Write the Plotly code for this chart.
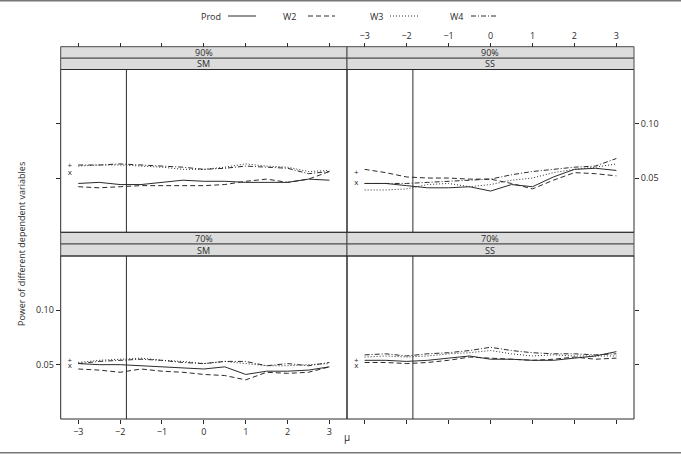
import plotly.graph_objects as go

W, H = 681, 454

mu = [-3, -2.5, -2, -1.5, -1, -0.5, 0, 0.5, 1, 1.5, 2, 2.5, 3]
series_names = ["Prod", "W2", "W3", "W4"]

# panel order: top-left (90%, SM), top-right (90%, SS), bottom-left (70%, SM), bottom-right (70%, SS)
panel_level = ["90%", "90%", "70%", "70%"]
panel_method = ["SM", "SS", "SM", "SS"]

prod_90_sm = [0.045, 0.046, 0.044, 0.044, 0.046, 0.048, 0.047, 0.047, 0.046, 0.046, 0.046, 0.049, 0.048]
w2_90_sm = [0.042, 0.041, 0.042, 0.043, 0.043, 0.043, 0.043, 0.044, 0.047, 0.049, 0.046, 0.049, 0.056]
w3_90_sm = [0.061, 0.062, 0.062, 0.061, 0.060, 0.058, 0.058, 0.060, 0.063, 0.061, 0.060, 0.056, 0.057]
w4_90_sm = [0.062, 0.062, 0.063, 0.062, 0.061, 0.060, 0.058, 0.059, 0.061, 0.060, 0.059, 0.054, 0.056]

prod_90_ss = [0.045, 0.045, 0.043, 0.041, 0.041, 0.042, 0.038, 0.044, 0.042, 0.051, 0.058, 0.059, 0.057]
w2_90_ss = [0.058, 0.055, 0.051, 0.050, 0.050, 0.049, 0.049, 0.045, 0.040, 0.048, 0.055, 0.054, 0.052]
w3_90_ss = [0.039, 0.039, 0.040, 0.044, 0.045, 0.042, 0.044, 0.048, 0.050, 0.055, 0.058, 0.060, 0.063]
w4_90_ss = [0.045, 0.045, 0.045, 0.046, 0.047, 0.048, 0.049, 0.053, 0.056, 0.058, 0.060, 0.061, 0.068]

prod_70_sm = [0.051, 0.050, 0.050, 0.049, 0.048, 0.047, 0.046, 0.048, 0.041, 0.044, 0.044, 0.045, 0.048]
w2_70_sm = [0.046, 0.045, 0.043, 0.046, 0.044, 0.043, 0.041, 0.040, 0.036, 0.043, 0.042, 0.043, 0.048]
w3_70_sm = [0.052, 0.054, 0.055, 0.056, 0.054, 0.053, 0.051, 0.053, 0.051, 0.049, 0.049, 0.050, 0.051]
w4_70_sm = [0.051, 0.053, 0.054, 0.055, 0.054, 0.052, 0.051, 0.053, 0.053, 0.049, 0.051, 0.049, 0.052]

prod_70_ss = [0.054, 0.054, 0.053, 0.054, 0.056, 0.058, 0.055, 0.055, 0.054, 0.054, 0.056, 0.058, 0.062]
w2_70_ss = [0.052, 0.052, 0.051, 0.052, 0.054, 0.057, 0.056, 0.055, 0.054, 0.055, 0.057, 0.055, 0.056]
w3_70_ss = [0.057, 0.058, 0.057, 0.058, 0.060, 0.061, 0.063, 0.060, 0.058, 0.059, 0.058, 0.058, 0.058]
w4_70_ss = [0.059, 0.060, 0.058, 0.060, 0.061, 0.063, 0.066, 0.063, 0.061, 0.060, 0.060, 0.059, 0.060]

panel_data = [
    [prod_90_sm, w2_90_sm, w3_90_sm, w4_90_sm],
    [prod_90_ss, w2_90_ss, w3_90_ss, w4_90_ss],
    [prod_70_sm, w2_70_sm, w3_70_sm, w4_70_sm],
    [prod_70_ss, w2_70_ss, w3_70_ss, w4_70_ss],
]

# "+" and "x" reference marks at left of each panel
mark_x = -3.2
plus_y = [0.0615, 0.0545, 0.0535, 0.0535]
cross_y = [0.0545, 0.0455, 0.0485, 0.049]

vline_x = -1.85

x_ticks = [-3, -2, -1, 0, 1, 2, 3]
y_ticks = [0.05, 0.10]
y_ticktext = ["0.05", "0.10"]

# ---------------- layout helpers ----------------
def px(x):
    return x / W

def py(y):
    return 1 - y / H

INK = "#2b2b2b"
FONT = "Open Sans"
dashes = ["solid", "5px,3px", "1px,2px", "5px,2px,1px,2px"]

xL = (60.7, 347.0)
xR = (347.0, 634.0)
yT = (69.5, 232.3)
yB = (256.0, 419.0)
xdoms = [xL, xR, xL, xR]
ydoms = [yT, yT, yB, yB]

fig = go.Figure()

for i in range(4):
    ax = "" if i == 0 else str(i + 1)
    for s in range(4):
        fig.add_trace(go.Scatter(
            x=mu, y=panel_data[i][s], mode="lines", name=series_names[s],
            line=dict(color=INK, width=1, dash=dashes[s]),
            xaxis="x" + ax, yaxis="y" + ax, showlegend=False, hoverinfo="skip"))
    fig.add_trace(go.Scatter(
        x=[mark_x, mark_x], y=[plus_y[i], cross_y[i]], mode="text",
        text=["+", "x"], textfont=dict(family=FONT, size=8, color=INK),
        xaxis="x" + ax, yaxis="y" + ax, showlegend=False, hoverinfo="skip"))

layout = dict(
    width=W, height=H, margin=dict(l=0, r=0, t=0, b=0),
    paper_bgcolor="white", plot_bgcolor="white",
    font=dict(family=FONT, size=9, color=INK),
    showlegend=False,
)

strip_top = 46.7
for i in range(4):
    k = "" if i == 0 else str(i + 1)
    top = i < 2
    left = i % 2 == 0
    xa = dict(domain=[px(xdoms[i][0]), px(xdoms[i][1])], range=[-3.42, 3.42],
              tickvals=x_ticks, ticktext=[("\u2212" + str(-v)) if v < 0 else str(v) for v in x_ticks],
              ticks="outside", ticklen=4, tickcolor=INK, showgrid=False, zeroline=False,
              showline=False, tickfont=dict(size=9, color=INK))
    if top:
        xa.update(anchor="free", position=py(strip_top), side="top",
                  showticklabels=(not left))
    else:
        xa.update(anchor="y" + k, side="bottom", showticklabels=left)
    ya = dict(domain=[py(ydoms[i][1]), py(ydoms[i][0])], range=[0, 0.15],
              tickvals=y_ticks, ticktext=y_ticktext,
              ticks="outside", ticklen=4, tickcolor=INK, showgrid=False, zeroline=False,
              showline=False, tickfont=dict(size=9, color=INK),
              anchor="x" + k, side="left" if left else "right")
    if top:
        ya["showticklabels"] = not left
    else:
        ya["showticklabels"] = left
    layout["xaxis" + k] = xa
    layout["yaxis" + k] = ya

fig.update_layout(**layout)

shapes = []
annotations = []
for i in range(4):
    k = "" if i == 0 else str(i + 1)
    xr = "x" + k
    yr = "y" + k
    # panel frame
    shapes.append(dict(type="rect", xref=xr + " domain", yref=yr + " domain",
                       x0=0, x1=1, y0=0, y1=1, line=dict(color=INK, width=1)))
    # vertical reference line
    shapes.append(dict(type="line", xref=xr, yref=yr + " domain",
                       x0=vline_x, x1=vline_x, y0=0, y1=1,
                       line=dict(color=INK, width=1)))
    # strips
    t0 = strip_top if i < 2 else 232.3
    t1 = t0 + (58.2 - 46.7) if i < 2 else 244.0
    t2 = yT[0] if i < 2 else yB[0]
    for (a, b, label) in [(t0, t1, panel_level[i]), (t1, t2, panel_method[i])]:
        shapes.append(dict(type="rect", xref="paper", yref="paper",
                           x0=px(xdoms[i][0]), x1=px(xdoms[i][1]), y0=py(b), y1=py(a),
                           fillcolor="#dcdcdc", line=dict(color="#4a4a4a", width=1),
                           layer="below"))
        annotations.append(dict(xref="paper", yref="paper",
                                x=(px(xdoms[i][0]) + px(xdoms[i][1])) / 2, y=(py(a) + py(b)) / 2,
                                text=label, showarrow=False, xanchor="center", yanchor="middle",
                                font=dict(family=FONT, size=9, color=INK)))

# legend (text then line sample)
leg_y = 16
leg_items = [("Prod", 211, 228, 256), ("W2", 289, 308, 335), ("W3", 376, 390, 418), ("W4", 456, 471, 496)]
for s, (name, tx, l0, l1) in enumerate(leg_items):
    annotations.append(dict(xref="paper", yref="paper", x=px(tx), y=py(leg_y), text=name,
                            showarrow=False, xanchor="center", yanchor="middle",
                            font=dict(family=FONT, size=9, color=INK)))
    shapes.append(dict(type="line", xref="paper", yref="paper", x0=px(l0), x1=px(l1),
                       y0=py(leg_y), y1=py(leg_y), line=dict(color=INK, width=1, dash=dashes[s])))

# axis titles
annotations.append(dict(xref="paper", yref="paper", x=px(347), y=py(437), text="\u03bc",
                        showarrow=False, xanchor="center", yanchor="middle",
                        font=dict(family=FONT, size=10, color=INK)))
annotations.append(dict(xref="paper", yref="paper", x=px(22), y=py(244),
                        text="Power of different dependent variables", textangle=-90,
                        showarrow=False, xanchor="center", yanchor="middle",
                        font=dict(family=FONT, size=9, color=INK)))

# image frame lines at top and bottom
shapes.append(dict(type="line", xref="paper", yref="paper", x0=0, x1=1, y0=py(0.7), y1=py(0.7),
                   line=dict(color="#777777", width=1.5)))
shapes.append(dict(type="line", xref="paper", yref="paper", x0=0, x1=1, y0=py(452.8), y1=py(452.8),
                   line=dict(color="#777777", width=1.5)))

fig.update_layout(shapes=shapes, annotations=annotations)
fig.write_html("out.html", config={"displayModeBar": False},
               post_script="document.body.style.margin='0';document.body.style.padding='0';")
